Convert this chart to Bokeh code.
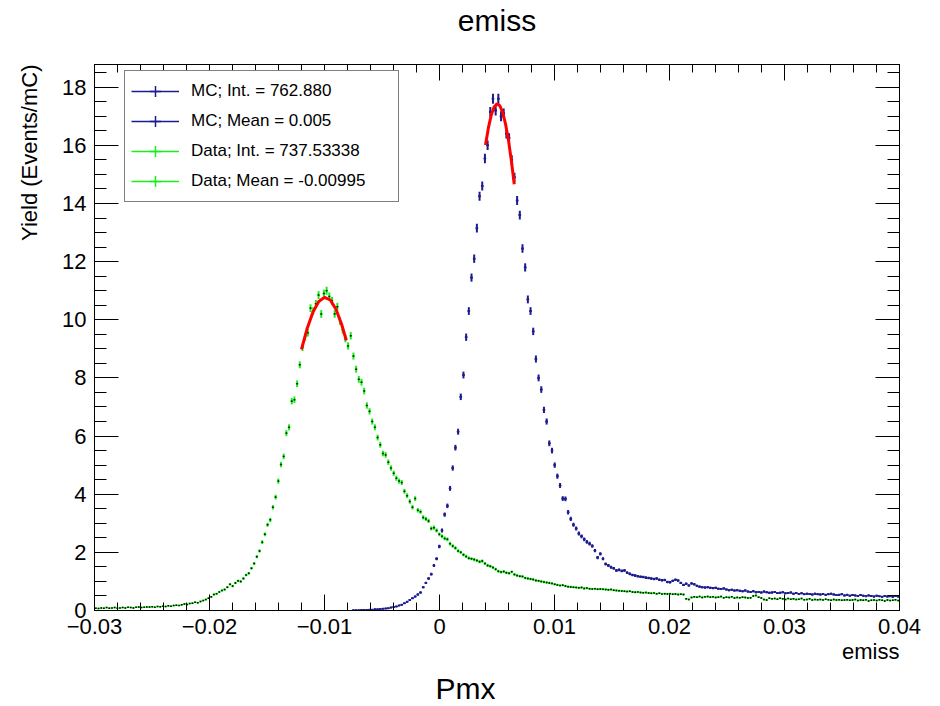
import numpy as np
from bokeh.plotting import figure
from bokeh.models import (ColumnDataSource, FixedTicker, Legend, LegendItem,
                          LinearAxis, Range1d, Title)
from bokeh.embed import file_html
from bokeh.resources import INLINE

# ---------------- data ----------------
x_min, x_max, n_bins = -0.03, 0.04, 300
y_min, y_top = 0.0, 18.78

mc_yield = [0.0] * 96 + [
    0.01, 0.01, 0.01, 0.02,
    0.02, 0.02, 0.03, 0.03, 0.04, 0.04, 0.05, 0.06, 0.07, 0.08,
    0.10, 0.12, 0.14, 0.17, 0.20, 0.25, 0.30, 0.36, 0.42, 0.48,
    0.55, 0.62, 0.80, 0.95, 1.10, 1.25, 1.55, 1.78, 2.20, 2.75,
    3.30, 3.60, 4.20, 4.90, 5.60, 6.15, 7.35, 8.10, 9.40, 10.30,
    11.45, 12.10, 13.15, 14.25, 14.60, 15.55, 16.00, 17.15, 17.60, 17.20,
    17.60, 17.00, 17.10, 16.40, 16.25, 15.50, 14.90, 14.10, 13.60, 12.45,
    11.80, 10.70, 10.30, 9.60, 8.65, 8.00, 7.60, 6.90, 6.50, 5.75,
    5.50, 5.00, 4.62, 4.30, 3.85, 3.84, 3.38, 3.15, 2.95, 2.82,
    2.65, 2.55, 2.45, 2.36, 2.30, 2.22, 2.06, 1.82, 1.95, 1.78,
    1.60, 1.55, 1.49, 1.45, 1.38, 1.40, 1.36, 1.38, 1.30, 1.26,
    1.22, 1.20, 1.18, 1.16, 1.15, 1.13, 1.12, 1.10, 1.08, 1.10,
    1.06, 1.04, 1.05, 0.98, 0.97, 1.02, 1.06, 1.03, 0.95, 0.88,
    0.92, 0.86, 0.93, 0.90, 0.85, 0.82, 0.80, 0.79, 0.80, 0.78,
    0.77, 0.78, 0.75, 0.74, 0.76, 0.72, 0.70, 0.71, 0.69, 0.70,
    0.68, 0.66, 0.69, 0.65, 0.64, 0.66, 0.63, 0.64, 0.62, 0.65,
    0.63, 0.61, 0.62, 0.64, 0.60, 0.61, 0.63, 0.59, 0.60, 0.62,
    0.58, 0.60, 0.57, 0.59, 0.56, 0.58, 0.57, 0.55, 0.58, 0.56,
    0.55, 0.57, 0.54, 0.56, 0.58, 0.55, 0.53, 0.54, 0.56, 0.52,
    0.54, 0.51, 0.53, 0.52, 0.50, 0.53, 0.51, 0.49, 0.52, 0.50,
    0.48, 0.51, 0.49, 0.47, 0.50, 0.48, 0.49, 0.47, 0.50, 0.48,
]

data_yield = [
    0.08, 0.07, 0.09, 0.08, 0.10, 0.08, 0.09, 0.10, 0.08, 0.09,
    0.10, 0.09, 0.11, 0.10, 0.09, 0.11, 0.12, 0.10, 0.11, 0.12,
    0.12, 0.13, 0.11, 0.14, 0.13, 0.15, 0.14, 0.16, 0.15, 0.17,
    0.18, 0.17, 0.20, 0.22, 0.21, 0.24, 0.25, 0.28, 0.27, 0.31,
    0.34, 0.38, 0.42, 0.47, 0.55, 0.58, 0.64, 0.69, 0.72, 0.80,
    0.90, 0.84, 0.95, 1.02, 1.00, 1.10, 1.22, 1.28, 1.45, 1.62,
    1.85, 2.05, 2.35, 2.62, 2.95, 3.12, 3.55, 3.90, 4.45, 5.02,
    5.30, 6.10, 6.30, 7.20, 7.25, 7.80, 8.45, 9.05, 9.40, 9.55,
    10.40, 10.30, 10.55, 10.85, 10.20, 10.90, 11.00, 10.80, 10.65, 10.20,
    10.45, 9.95, 9.65, 9.35, 9.10, 9.45, 8.75, 8.30, 7.95, 7.85,
    7.55, 7.05, 6.85, 6.50, 6.30, 5.95, 5.70, 5.40, 5.35, 5.10,
    4.90, 4.72, 4.55, 4.45, 4.40, 4.10, 3.95, 3.75, 3.55, 3.85,
    3.45, 3.40, 3.20, 3.15, 3.08, 2.82, 2.85, 2.75, 2.62, 2.55,
    2.48, 2.45, 2.30, 2.22, 2.15, 2.05, 2.00, 1.92, 1.86, 1.80,
    1.78, 1.75, 1.72, 1.68, 1.70, 1.62, 1.55, 1.52, 1.48, 1.42,
    1.35, 1.32, 1.34, 1.30, 1.28, 1.33, 1.24, 1.20, 1.18, 1.17,
    1.12, 1.10, 1.08, 1.07, 1.03, 1.02, 1.00, 0.98, 0.96, 0.95,
    0.93, 0.90, 0.88, 0.86, 0.87, 0.84, 0.82, 0.81, 0.80, 0.79,
    0.78, 0.79, 0.76, 0.77, 0.75, 0.74, 0.75, 0.73, 0.74, 0.73,
    0.72, 0.71, 0.72, 0.70, 0.69, 0.68, 0.67, 0.66, 0.65, 0.66,
    0.64, 0.63, 0.64, 0.62, 0.61, 0.62, 0.60, 0.59, 0.60, 0.58,
    0.59, 0.57, 0.58, 0.57, 0.58, 0.56, 0.57, 0.55, 0.56, 0.55,
    0.40, 0.38, 0.45, 0.47, 0.46, 0.48, 0.45, 0.47, 0.48, 0.46,
    0.47, 0.45, 0.46, 0.48, 0.44, 0.46, 0.45, 0.47, 0.43, 0.45,
    0.44, 0.46, 0.45, 0.43, 0.44, 0.50, 0.52, 0.46, 0.43, 0.38,
    0.36, 0.42, 0.40, 0.41, 0.39, 0.42, 0.40, 0.38, 0.41, 0.39,
    0.40, 0.38, 0.39, 0.41, 0.37, 0.38, 0.40, 0.36, 0.38, 0.37,
    0.38, 0.36, 0.39, 0.37, 0.35, 0.38, 0.36, 0.37, 0.35, 0.36,
    0.37, 0.35, 0.36, 0.38, 0.34, 0.36, 0.35, 0.37, 0.33, 0.35,
    0.36, 0.34, 0.37, 0.35, 0.33, 0.36, 0.34, 0.35, 0.37, 0.34,
]

mc_fit_x = [0.0040, 0.00425, 0.0045, 0.00475, 0.0050, 0.00525, 0.0055,
            0.00575, 0.0060, 0.00625, 0.0065]
mc_fit_y = [16.01, 16.60, 17.04, 17.32, 17.43, 17.36, 17.12, 16.72, 16.17,
            15.47, 14.66]
data_fit_x = [-0.0120, -0.0115, -0.0110, -0.0105, -0.0100, -0.0095, -0.0090,
              -0.0085, -0.0081]
data_fit_y = [8.98, 9.71, 10.27, 10.63, 10.77, 10.68, 10.36, 9.83, 9.29]

x_tick_values = [-0.03, -0.02, -0.01, 0.0, 0.01, 0.02, 0.03, 0.04]
x_tick_labels = ["\u22120.03", "\u22120.02", "\u22120.01", "0", "0.01", "0.02",
                 "0.03", "0.04"]
y_tick_values = [0, 2, 4, 6, 8, 10, 12, 14, 16, 18]

legend_labels = ["MC; Int. = 762.880", "MC; Mean = 0.005",
                 "Data; Int. = 737.53338", "Data; Mean = -0.00995"]

title_text = "emiss"
x_title_text = "emiss"
y_title_text = "Yield (Events/mC)"
bottom_text = "Pmx"

# ---------------- layout / style ----------------
FONT = "Liberation Sans"
FL, FR, FT, FB = 92, 899, 64, 610
W, H = 940, 706
MC_COLOR = "#1c1c8e"
DATA_COLOR = "#1aee1a"
ERR_SCALE = 0.0017

p = figure(width=W, height=H, output_backend="svg", toolbar_location=None,
           x_range=Range1d(x_min, x_max), y_range=Range1d(y_min, y_top),
           x_axis_location=None, y_axis_location=None,
           min_border_left=FL, min_border_right=W - FR,
           min_border_top=FT, min_border_bottom=H - FB)
p.grid.visible = False
p.outline_line_color = "black"
p.outline_line_width = 1
p.background_fill_color = "white"
p.border_fill_color = "white"

x_minor = [round(x_min + 0.002 * k, 4) for k in range(36)]
y_minor = [0.5 * k for k in range(38)]


def make_axis(ticker_vals, minor, tick_in, minor_in, show_labels,
              overrides=None):
    ax = LinearAxis(ticker=FixedTicker(ticks=ticker_vals, minor_ticks=minor))
    ax.major_tick_in = tick_in
    ax.major_tick_out = 0
    ax.minor_tick_in = minor_in
    ax.minor_tick_out = 0
    ax.axis_line_color = "black"
    ax.major_tick_line_color = "black"
    ax.minor_tick_line_color = "black"
    ax.major_label_text_font = FONT
    ax.major_label_text_color = "black"
    ax.axis_label_text_font = FONT
    ax.axis_label_text_font_style = "normal"
    ax.axis_label_text_color = "black"
    if show_labels:
        ax.major_label_text_font_size = "22px"
        ax.major_label_standoff = 8
    else:
        ax.major_label_text_font_size = "2px"
        ax.major_label_text_alpha = 0.0
        ax.major_label_standoff = 0
    if overrides:
        ax.major_label_overrides = overrides
    return ax


x_over = {v: s for v, s in zip(x_tick_values, x_tick_labels)}
p.add_layout(make_axis(x_tick_values, x_minor, 16, 8, True, x_over), "below")

top_axis = make_axis(x_tick_values, x_minor, 16, 8, False)
top_axis.axis_label = title_text          # plot title, centred over the frame
top_axis.axis_label_text_font_size = "30px"
top_axis.axis_label_standoff = 28
p.add_layout(top_axis, "above")

p.add_layout(make_axis(y_tick_values, y_minor, 24, 12, True), "left")
p.add_layout(make_axis(y_tick_values, y_minor, 24, 12, False), "right")

# axis titles (ROOT style: at the end of each axis) and the bottom caption
p.add_layout(Title(text=y_title_text, align="right", vertical_align="top",
                   standoff=32, text_font=FONT, text_font_size="22px",
                   text_font_style="normal", text_color="black"), "left")
p.add_layout(Title(text=x_title_text, align="right", vertical_align="top",
                   standoff=4, text_font=FONT, text_font_size="22px",
                   text_font_style="normal", text_color="black"), "below")
p.add_layout(Title(text=bottom_text, align="left", offset=341,
                   vertical_align="bottom", standoff=4, text_font=FONT,
                   text_font_size="30px", text_font_style="normal",
                   text_color="black"), "below")

bin_width = (x_max - x_min) / n_bins
centers = x_min + (np.arange(n_bins) + 0.5) * bin_width


def add_hist(vals, line_color, dot_color, dot_size):
    v = np.asarray(vals, dtype=float)
    m = v > 0
    xc = centers[m]
    yv = v[m]
    e = np.sqrt(yv * ERR_SCALE)
    src = ColumnDataSource(dict(x=xc, y=yv, lo=yv - e, hi=yv + e,
                                xl=xc - bin_width / 2, xr=xc + bin_width / 2))
    p.segment(x0="x", y0="lo", x1="x", y1="hi", source=src,
              line_color=line_color, line_width=2)
    hbar = p.segment(x0="xl", y0="y", x1="xr", y1="y", source=src,
                     line_color=line_color, line_width=1.5)
    p.scatter("x", "y", source=src, marker="square", size=dot_size,
              fill_color=dot_color, line_color=None)
    # zero-size crosses: invisible on the plot, give the legend its error-bar key
    key = p.scatter("x", "y", source=src, marker="cross", size=0,
                    line_color=line_color, line_width=1.5)
    return hbar, key


d_h, d_k = add_hist(data_yield, DATA_COLOR, "black", 1.5)
m_h, m_k = add_hist(mc_yield, MC_COLOR, MC_COLOR, 2)

p.line(mc_fit_x, mc_fit_y, line_color="red", line_width=3)
p.line(data_fit_x, data_fit_y, line_color="red", line_width=3)

legend = Legend(items=[
    LegendItem(label=legend_labels[0], renderers=[m_h, m_k]),
    LegendItem(label=legend_labels[1], renderers=[m_h, m_k]),
    LegendItem(label=legend_labels[2], renderers=[d_h, d_k]),
    LegendItem(label=legend_labels[3], renderers=[d_h, d_k]),
])
legend.location = (30, FB - 72 - 130)
legend.padding = 6
legend.spacing = 2
legend.margin = 0
legend.glyph_width = 48
legend.glyph_height = 28
legend.label_height = 28
legend.label_width = 201
legend.label_standoff = 12
legend.label_text_font = FONT
legend.label_text_font_size = "17px"
legend.label_text_color = "black"
legend.border_line_color = "black"
legend.border_line_width = 1
legend.background_fill_color = "white"
legend.background_fill_alpha = 1.0
p.add_layout(legend, "center")

open("out.html", "w").write(file_html(p, INLINE))
